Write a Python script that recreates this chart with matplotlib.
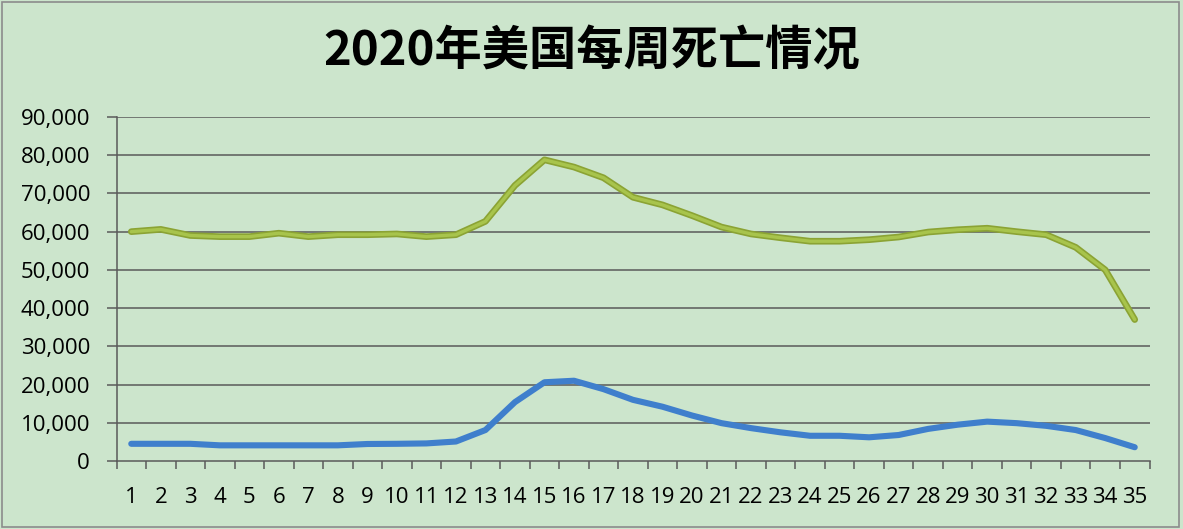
import matplotlib
matplotlib.use("Agg")
import matplotlib.pyplot as plt
from matplotlib.patches import Rectangle
from matplotlib.ticker import FuncFormatter, FixedLocator

weeks = list(range(1, 36))
week_labels = [str(w) for w in weeks]
total_deaths = [60000, 60600, 59000, 58700, 58700, 59600, 58700, 59200, 59200, 59400,
                58700, 59200, 62700, 72100, 78800, 76900, 74100, 69000, 67000, 64200,
                61200, 59400, 58400, 57500, 57500, 57900, 58600, 59900, 60500, 60900,
                60000, 59200, 55900, 50000, 37000]
covid_deaths = [4500, 4500, 4500, 4100, 4100, 4100, 4100, 4100, 4450, 4500,
                4600, 5100, 8100, 15400, 20600, 21000, 18800, 16000, 14200, 11900,
                9900, 8600, 7500, 6600, 6600, 6200, 6800, 8400, 9500, 10300,
                9900, 9200, 8100, 6000, 3600]
y_ticks = [0, 10000, 20000, 30000, 40000, 50000, 60000, 70000, 80000, 90000]
title = "2020年美国每周死亡情况"

bg = "#cce5cc"
plt.rcParams['font.family'] = ['Open Sans', 'Noto Sans CJK SC', 'DejaVu Sans']

fig = plt.figure(figsize=(11.83, 5.29), dpi=100, facecolor=bg)
ax = fig.add_axes([116.5 / 1183, 1 - 461 / 529, (1149.5 - 116.5) / 1183, (461 - 117) / 529])
ax.set_facecolor(bg)

for y in y_ticks[1:]:
    ax.axhline(y, color="#5a5a5a", lw=1.1, zorder=1)

ax.plot(weeks, total_deaths, color="#8ba334", lw=4.8, solid_capstyle="round",
        solid_joinstyle="round", zorder=3)
ax.plot(weeks, total_deaths, color="#a8c44c", lw=2.4, solid_capstyle="round",
        solid_joinstyle="round", zorder=4)
ax.plot(weeks, covid_deaths, color="#3f7fcc", lw=4.4, solid_capstyle="round",
        solid_joinstyle="round", zorder=3)

ax.set_xlim(0.5, 35.5)
ax.set_ylim(0, 90000)
ax.set_yticks(y_ticks)
ax.yaxis.set_major_formatter(FuncFormatter(lambda v, p: f"{int(v):,}"))
ax.set_xticks(weeks)
ax.set_xticklabels(week_labels)
ax.xaxis.set_minor_locator(FixedLocator([i + 0.5 for i in range(0, 36)]))

for s in ["top", "right"]:
    ax.spines[s].set_visible(False)
for s in ["left", "bottom"]:
    ax.spines[s].set_color("#5a5a5a")
    ax.spines[s].set_linewidth(1.1)

ax.tick_params(axis="y", which="major", length=7, width=1.1, color="#5a5a5a",
               labelsize=16, pad=12, labelcolor="black")
ax.tick_params(axis="x", which="major", length=0, labelsize=16, pad=19, labelcolor="black")
ax.tick_params(axis="x", which="minor", length=6, width=1.1, color="#5a5a5a", direction="out")

fig.text(0.5, 1 - 51 / 529, title, ha="center", va="center", fontsize=34,
         fontweight="bold", family=['Noto Sans CJK SC', 'DejaVu Sans'], color="black")

fig.patches.append(Rectangle((2 / 1183, 2 / 529), 1177 / 1183, 525 / 529,
                             transform=fig.transFigure, fill=False,
                             edgecolor="#8c8c8c", lw=1.2))

fig.savefig("out.png", dpi=100, facecolor=bg)
